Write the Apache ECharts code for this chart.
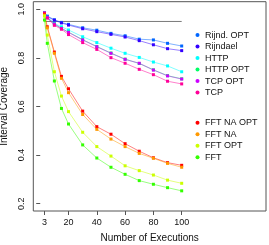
<!DOCTYPE html>
<html><head><meta charset="utf-8">
<script src="https://cdn.jsdelivr.net/npm/echarts@6/dist/echarts.min.js"></script>
<style>html,body{margin:0;padding:0;background:#fff}#c{width:269px;height:245px}</style>
</head><body><div id="c"></div>
<script>
const executions = [3,5,10,15,20,30,40,50,60,70,80,90,100];
const xTicks = [3,20,40,60,80,100];
const yTicks = [0.2,0.4,0.6,0.8,1.0];
const refLevel = 0.95;
const refRange = [3,100];

const rijndOpt = [0.986,0.972,0.957,0.946,0.938,0.924,0.914,0.901,0.891,0.877,0.874,0.860,0.849];
const rijndael = [0.985,0.970,0.955,0.944,0.935,0.920,0.908,0.897,0.886,0.871,0.854,0.838,0.830];
const http     = [0.985,0.968,0.942,0.928,0.915,0.887,0.863,0.840,0.819,0.802,0.783,0.767,0.743];
const httpOpt  = [0.985,0.966,0.940,0.922,0.906,0.875,0.847,0.820,0.795,0.777,0.751,0.727,0.714];
const tcpOpt   = [0.985,0.966,0.939,0.921,0.905,0.874,0.846,0.819,0.794,0.778,0.750,0.726,0.713];
const tcp      = [0.984,0.964,0.934,0.918,0.896,0.863,0.835,0.801,0.778,0.753,0.731,0.704,0.693];
const fftNaOpt = [0.980,0.928,0.824,0.724,0.673,0.581,0.517,0.486,0.447,0.416,0.389,0.369,0.358];
const fftNa    = [0.976,0.924,0.819,0.716,0.657,0.567,0.506,0.466,0.435,0.407,0.387,0.366,0.350];
const fftOpt   = [0.972,0.894,0.743,0.643,0.579,0.494,0.435,0.396,0.356,0.336,0.318,0.297,0.284];
const fft      = [0.956,0.860,0.705,0.592,0.528,0.442,0.388,0.350,0.321,0.295,0.280,0.266,0.253];

const names = ['Rijnd. OPT','Rijndael','HTTP','HTTP OPT','TCP OPT','TCP','FFT NA OPT','FFT NA','FFT OPT','FFT'];
const values = [rijndOpt,rijndael,http,httpOpt,tcpOpt,tcp,fftNaOpt,fftNa,fftOpt,fft];
const colors = ['#0066FF','#3300FF','#00FFFF','#00FF66','#CC00FF','#FF0099','#FF0000','#FF9900','#CCFF00','#33FF00'];

const FONT = '"Liberation Sans", Arial, Helvetica, sans-serif';
const series = [{
  type:'line', silent:true, symbol:'none',
  data: refRange.map(x=>[x,refLevel]),
  lineStyle:{color:'#7a7a7a', width:1}, z:1
}];
names.forEach((n,i)=>{
  series.push({
    name:n, type:'line', symbol:'rect', symbolSize:3,
    data: executions.map((x,j)=>[x,values[i][j]]),
    itemStyle:{color:colors[i]},
    lineStyle:{color:colors[i], width:1, opacity:0.5},
    animation:false, z:2
  });
});
const legendCommon = {
  orient:'vertical', left:190.5, itemWidth:5, itemHeight:4, icon:'circle', itemGap:0.3,
  textStyle:{fontSize:9, fontFamily:FONT, color:'#111', lineHeight:11.2}, selectedMode:false
};
const chart = echarts.init(document.getElementById('c'), null, {renderer:'canvas'});
chart.setOption({
  animation:false,
  grid:{left:33.3, right:3, top:1.7, bottom:34, containLabel:false, outerBoundsMode:'none',
    show:true, borderColor:'#555', borderWidth:1, backgroundColor:'transparent'},
  legend:[
    Object.assign({top:24.5, data:names.slice(0,6)}, legendCommon),
    Object.assign({top:112.2, data:names.slice(6)}, legendCommon)
  ],
  xAxis:{type:'value', min:-4.9, max:159.6,
    name:'Number of Executions', nameLocation:'middle', nameGap:22,
    nameTextStyle:{fontSize:10, fontFamily:FONT, color:'#111'},
    axisLine:{show:false}, splitLine:{show:false},
    axisTick:{show:true, length:4, lineStyle:{color:'#555'}, customValues:xTicks},
    axisLabel:{fontSize:9, fontFamily:FONT, color:'#111', margin:7, customValues:xTicks}
  },
  yAxis:{type:'value', min:0.17, max:1.0313,
    name:'Interval Coverage', nameLocation:'middle', nameGap:23,
    nameTextStyle:{fontSize:10, fontFamily:FONT, color:'#111'},
    axisLine:{show:false}, splitLine:{show:false},
    axisTick:{show:true, length:4, lineStyle:{color:'#555'}, customValues:yTicks},
    axisLabel:{fontSize:9, fontFamily:FONT, color:'#111', margin:7, rotate:90, customValues:yTicks,
      formatter:v=>v.toFixed(1)}
  },
  series:series
});
</script></body></html>
